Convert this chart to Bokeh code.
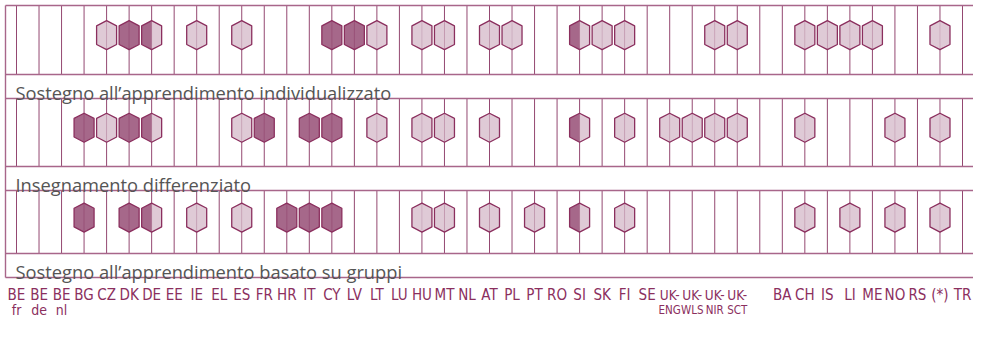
from bokeh.plotting import figure
from bokeh.models import Range1d
from bokeh.core.properties import value
from bokeh.embed import file_html
from bokeh.resources import INLINE

# ---- data ----
countries_line1 = ["BE", "BE", "BE", "BG", "CZ", "DK", "DE", "EE", "IE", "EL", "ES", "FR", "HR", "IT",
                   "CY", "LV", "LT", "LU", "HU", "MT", "NL", "AT", "PL", "PT", "RO", "SI", "SK", "FI",
                   "SE", "UK-", "UK-", "UK-", "UK-", "", "BA", "CH", "IS", "LI", "ME", "NO", "RS", "(*)", "TR"]
countries_line2 = ["fr", "de", "nl"] + [""] * 26 + ["ENG", "WLS", "NIR", "SCT"] + [""] * 10

row_titles = ["Sostegno all\u2019apprendimento individualizzato",
              "Insegnamento differenziato",
              "Sostegno all\u2019apprendimento basato su gruppi"]

# 0 = none, 1 = light, 2 = half (left dark), 3 = dark
row1 = [0, 0, 0, 0, 1, 3, 2, 0, 1, 0, 1, 0, 0, 0, 3, 3, 1, 0, 1, 1, 0, 1, 1, 0, 0, 2, 1, 1, 0, 0, 0, 1, 1, 0,
        0, 1, 1, 1, 1, 0, 0, 1, 0]
row2 = [0, 0, 0, 3, 1, 3, 2, 0, 0, 0, 1, 3, 0, 3, 3, 0, 1, 0, 1, 1, 0, 1, 0, 0, 0, 2, 0, 1, 0, 1, 1, 1, 1, 0,
        0, 1, 0, 0, 0, 1, 0, 1, 0]
row3 = [0, 0, 0, 3, 0, 3, 2, 0, 1, 0, 1, 0, 3, 3, 3, 0, 0, 0, 1, 1, 0, 1, 0, 1, 0, 2, 0, 1, 0, 0, 0, 0, 0, 0,
        0, 1, 0, 1, 0, 1, 0, 1, 0]
rows = [row1, row2, row3]

# ---- layout (pixels) ----
W, H = 973, 324
PX = 22.524          # px per column
X0 = -16.0 / PX      # x range start (column 0 at 16 px)
X1 = X0 + W / PX
row_tops = [5, 98, 190]
row_bots = [74, 166, 253]
band_bots = [98, 190, 277]
HEX_HW = 10.0 / PX
HEX_HH = 14.5
HEX_SIDE = 9.3
LEFT = X0 + 5.0 / PX

LINE_C = "#944871"
BORDER_C = "#a8668a"
OUT_C = "#8b2f5e"
LIGHT = "#d9c1cf"
DARK = "#964d76"
LABEL_C = "#8b2f5e"

p = figure(width=W, height=H, output_backend="svg", toolbar_location=None,
           x_range=Range1d(X0, X1), y_range=Range1d(H, 0),
           x_axis_type=None, y_axis_type=None, min_border=0)
p.outline_line_color = None
p.grid.visible = False
p.background_fill_color = "white"

n = len(countries_line1)
idx = list(range(n))

# vertical column lines
for t, b in zip(row_tops, row_bots):
    p.segment(x0=idx, y0=[t] * n, x1=idx, y1=[b] * n, line_color=LINE_C, line_width=1)

# horizontal lines
hys = [row_tops[0], row_bots[0], row_tops[1], row_bots[1], row_tops[2], row_bots[2], band_bots[2]]
p.segment(x0=[LEFT] * len(hys), y0=hys, x1=[X1] * len(hys), y1=hys,
          line_color=BORDER_C, line_width=1.4)
# left border
p.segment(x0=[LEFT], y0=[row_tops[0]], x1=[LEFT], y1=[band_bots[2]], line_color=BORDER_C, line_width=1.4)

# hexagons
lx, ly, lc, rx, ry, rc, ox, oy = [], [], [], [], [], [], [], []
for vals, t, b in zip(rows, row_tops, row_bots):
    cy = t + 0.43 * (b - t)
    for i, v in enumerate(vals):
        if v == 0:
            continue
        lx.append([i, i, i - HEX_HW, i - HEX_HW])
        ly.append([cy - HEX_HH, cy + HEX_HH, cy + HEX_SIDE, cy - HEX_SIDE])
        lc.append(DARK if v >= 2 else LIGHT)
        rx.append([i, i + HEX_HW, i + HEX_HW, i])
        ry.append([cy - HEX_HH, cy - HEX_SIDE, cy + HEX_SIDE, cy + HEX_HH])
        rc.append(DARK if v == 3 else LIGHT)
        ox.append([i, i + HEX_HW, i + HEX_HW, i, i - HEX_HW, i - HEX_HW])
        oy.append([cy - HEX_HH, cy - HEX_SIDE, cy + HEX_SIDE, cy + HEX_HH, cy + HEX_SIDE, cy - HEX_SIDE])

p.patches(xs=lx, ys=ly, fill_color=lc, fill_alpha=0.85, line_color=None)
p.patches(xs=rx, ys=ry, fill_color=rc, fill_alpha=0.85, line_color=None)
p.patches(xs=ox, ys=oy, fill_color=None, line_color=OUT_C, line_width=1.3)

# row titles
title_y = [rb + 18 for rb in row_bots]
p.text(x=[X0 + 15 / PX] * 3, y=title_y, text=row_titles,
       text_font=value("Open Sans"), text_font_size="18.3px", text_color="#555555",
       text_baseline="alphabetic", text_align="left")

# country labels (UK sub-labels are set a little smaller so they don't run together)
cond = value("Liberation Sans Narrow, DejaVu Sans Condensed, sans-serif")
uk = [i for i in idx if countries_line1[i] == "UK-"]
other = [i for i in idx if countries_line1[i] not in ("UK-", "")]
p.text(x=other, y=[294] * len(other), text=[countries_line1[i] for i in other], text_font=cond,
       text_font_size="15px", text_color=LABEL_C, text_align="center", text_baseline="alphabetic")
p.text(x=uk, y=[294] * len(uk), text=[countries_line1[i] for i in uk], text_font=cond,
       text_font_size="13.5px", text_color=LABEL_C, text_align="center", text_baseline="alphabetic")
sub_small = [i for i in idx if countries_line2[i] in ("ENG", "WLS", "NIR", "SCT")]
sub_other = [i for i in idx if countries_line2[i] in ("fr", "de", "nl")]
p.text(x=sub_other, y=[309] * len(sub_other), text=[countries_line2[i] for i in sub_other], text_font=cond,
       text_font_size="14px", text_color=LABEL_C, text_align="center", text_baseline="alphabetic")
p.text(x=sub_small, y=[309] * len(sub_small), text=[countries_line2[i] for i in sub_small], text_font=cond,
       text_font_size="11.5px", text_color=LABEL_C, text_align="center", text_baseline="alphabetic")

open("out.html", "w").write(file_html(p, INLINE))
